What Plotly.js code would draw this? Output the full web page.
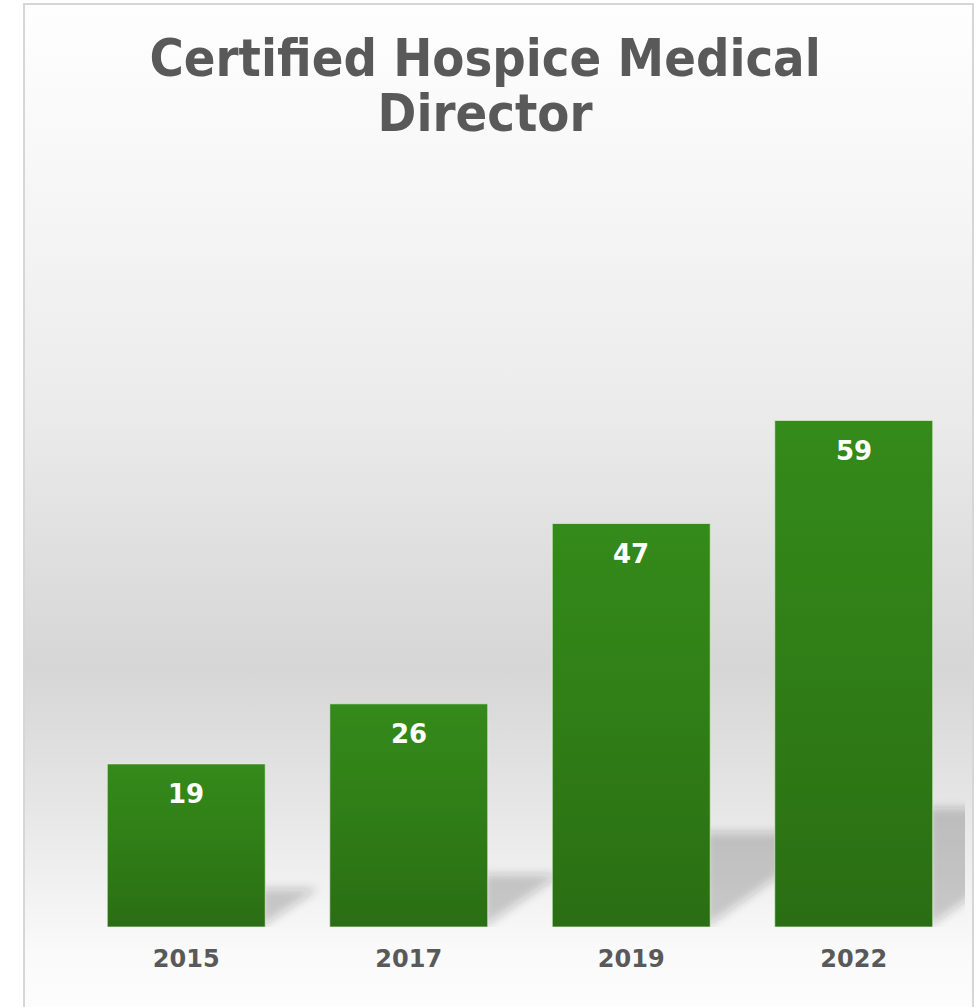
<!DOCTYPE html>
<html>
<head>
<meta charset="utf-8">
<script src="https://cdn.plot.ly/plotly-3.0.1.min.js"></script>
<style>
  html, body { margin: 0; padding: 0; background: #ffffff; }
  #wrap { position: relative; width: 980px; height: 1007px; overflow: hidden; }
  #frame {
    position: absolute; left: 23px; top: 3px; width: 947px; height: 1020px;
    border: 2px solid #d6d6d6; border-bottom: none;
    background: linear-gradient(to bottom,
      #fefefe 0%, #f8f8f8 14.5%, #ebebeb 40%, #e0e0e0 52.5%,
      #d6d6d6 65%, #e4e4e4 77%, #efefef 85%, #fafafa 93%, #fdfdfd 100%);
  }
  #chart { position: absolute; left: 0; top: 0; width: 980px; height: 1007px; }
</style>
</head>
<body>
<div id="wrap">
  <div id="frame"></div>
  <div id="chart"></div>
</div>
<script>
// ---- data ----
const years = ["2015", "2017", "2019", "2022"];
const counts = [19, 26, 47, 59];
const chartTitle = "Certified Hospice Medical<br>Director";

// ---- derived ----
const xIdx = years.map((_, i) => i);
const barWidth = 0.71;

// soft shadows behind bars (triangular projection, blurred afterwards)
const shapes = counts.map((v, i) => {
  const xr = xIdx[i] + barWidth / 2;
  const h = 0.235 * v;
  const dx = 0.0125 * v;
  return {
    type: "path", xref: "x", yref: "y", layer: "below",
    path: `M ${xr - 0.02} 0 L ${xr - 0.02} ${h} L ${xr + dx} ${h} Z`,
    fillcolor: "rgba(40,40,40,0.22)",
    line: {width: 0}
  };
});

const annotations = counts.map((v, i) => ({
  x: xIdx[i], y: v, xref: "x", yref: "y",
  text: String(v), showarrow: false,
  yanchor: "top", yshift: -13,
  font: {family: "DejaVu Sans, Verdana, sans-serif", size: 26, color: "#ffffff", weight: "bold"}
}));

const trace = {
  type: "bar",
  x: xIdx,
  y: counts,
  width: barWidth,
  marker: {color: "#2f7c17", line: {color: "rgba(225,240,215,0.7)", width: 1}},
  hoverinfo: "skip"
};

const layout = {
  width: 980, height: 1007,
  paper_bgcolor: "rgba(0,0,0,0)",
  plot_bgcolor: "rgba(0,0,0,0)",
  margin: {l: 75, r: 15, t: 369, b: 80},
  showlegend: false,
  title: {
    text: chartTitle,
    x: 0.495, xanchor: "center",
    yref: "container", y: 0.925, yanchor: "top",
    font: {family: "DejaVu Sans Condensed, Liberation Sans Narrow, DejaVu Sans, sans-serif", size: 52, color: "#595959", weight: "bold"}
  },
  xaxis: {
    range: [-0.5, 3.5],
    tickvals: xIdx, ticktext: years,
    showgrid: false, zeroline: false, showline: false, ticks: "",
    ticklabelstandoff: 15,
    tickfont: {family: "DejaVu Sans, Verdana, sans-serif", size: 24, color: "#595959", weight: "bold"}
  },
  yaxis: {
    range: [0, 65],
    showgrid: false, zeroline: false, showline: false,
    showticklabels: false, ticks: ""
  },
  shapes: shapes,
  annotations: annotations
};

Plotly.newPlot("chart", [trace], layout, {displayModeBar: false, staticPlot: true}).then(gd => {
  const svgNS = "http://www.w3.org/2000/svg";
  const svg = gd.querySelector(".main-svg");
  let defs = svg.querySelector("defs");
  if (!defs) { defs = document.createElementNS(svgNS, "defs"); svg.insertBefore(defs, svg.firstChild); }

  // bar gradient
  const grad = document.createElementNS(svgNS, "linearGradient");
  grad.setAttribute("id", "barGrad");
  grad.setAttribute("x1", "0"); grad.setAttribute("y1", "0");
  grad.setAttribute("x2", "0"); grad.setAttribute("y2", "1");
  [["0%", "#348a1a"], ["45%", "#307f17"], ["100%", "#2a6e13"]].forEach(([o, c]) => {
    const s = document.createElementNS(svgNS, "stop");
    s.setAttribute("offset", o); s.setAttribute("stop-color", c);
    grad.appendChild(s);
  });
  defs.appendChild(grad);
  gd.querySelectorAll(".trace.bars .point path").forEach(p => {
    p.style.setProperty("fill", "url(#barGrad)");
  });

  // shadow blur
  const filt = document.createElementNS(svgNS, "filter");
  filt.setAttribute("id", "shBlur");
  filt.setAttribute("x", "-60%"); filt.setAttribute("y", "-60%");
  filt.setAttribute("width", "220%"); filt.setAttribute("height", "220%");
  const blur = document.createElementNS(svgNS, "feGaussianBlur");
  blur.setAttribute("stdDeviation", "5");
  filt.appendChild(blur);
  defs.appendChild(filt);
  gd.querySelectorAll(".shapelayer path").forEach(p => p.setAttribute("filter", "url(#shBlur)"));

  // tighter title line spacing
  const lines = gd.querySelectorAll(".gtitle tspan.line");
  if (lines.length > 1) {
    for (let k = 1; k < lines.length; k++) lines[k].setAttribute("dy", (k * 1.06) + "em");
  }
});
</script>
</body>
</html>
